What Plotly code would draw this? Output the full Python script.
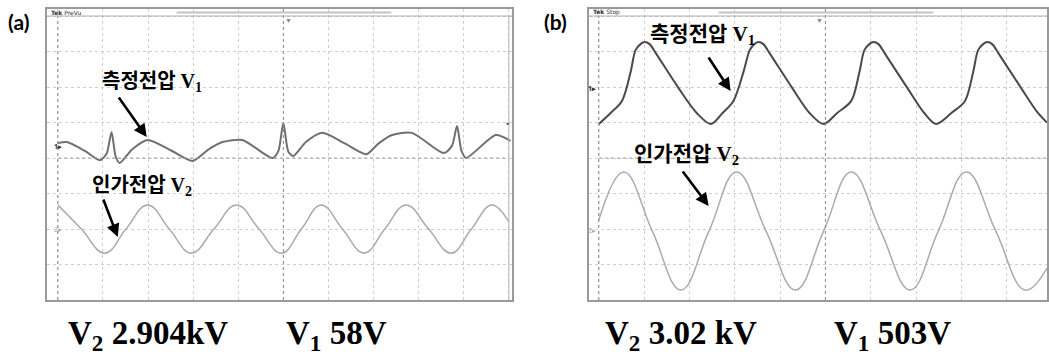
import plotly.graph_objects as go

# ---------------- data (oscilloscope divisions) ----------------
# Panel (a): measured voltage V1 (dark trace)
a_v1_t = [0.00, 0.20, 0.60, 0.93, 1.08, 1.19, 1.28, 1.37, 1.65, 1.99, 2.50, 2.99, 3.35,
          3.65, 4.09, 4.76, 4.89, 5.00, 5.11, 5.22, 5.50, 5.86, 6.35, 6.84, 7.10, 7.41,
          7.85, 8.56, 8.74, 8.85, 8.95, 9.05, 9.71, 10.04]
a_v1_y = [0.42, 0.45, 0.20, -0.06, 0.12, 0.73, 0.05, -0.14, 0.25, 0.51, 0.22, -0.08, 0.25,
          0.45, 0.51, 0.00, 0.20, 0.99, 0.18, 0.06, 0.45, 0.71, 0.42, 0.11, 0.40, 0.65,
          0.71, 0.14, 0.35, 0.90, 0.20, 0.00, 0.65, 0.48]
# Panel (a): applied voltage V2 (light trace)
a_v2_t = [0.00, 0.52, 1.04, 1.51, 1.99, 2.47, 2.96, 3.46, 3.96, 4.46, 4.96, 5.40, 5.84,
          6.31, 6.79, 7.25, 7.72, 8.22, 8.72, 9.17, 9.62, 10.00]
a_v2_y = [-1.32, -2.00, -2.68, -2.00, -1.32, -2.00, -2.68, -2.00, -1.32, -2.00, -2.68,
          -2.00, -1.32, -2.00, -2.68, -2.00, -1.32, -2.00, -2.68, -2.00, -1.32, -1.80]
# Panel (b): measured voltage V1
b_v1_t = [0.00, 0.26, 0.51, 0.70, 0.81, 0.92, 1.01, 1.12, 1.26, 1.76, 2.16, 2.47,
          2.73, 2.97, 3.19, 3.33, 3.43, 3.52, 3.63, 3.77, 4.27, 4.65, 4.96,
          5.26, 5.57, 5.75, 5.86, 5.97, 6.06, 6.17, 6.31, 6.81, 7.18, 7.44,
          7.78, 8.08, 8.26, 8.37, 8.48, 8.57, 8.68, 8.82, 9.32, 9.69, 9.89]
b_v1_y = [0.96, 1.27, 1.61, 2.42, 3.04, 3.21, 3.27, 3.21, 2.95, 1.97, 1.27, 0.96,
          1.27, 1.61, 2.42, 3.04, 3.21, 3.27, 3.21, 2.95, 1.97, 1.27, 0.96,
          1.27, 1.61, 2.42, 3.04, 3.21, 3.27, 3.21, 2.95, 1.97, 1.27, 0.96,
          1.27, 1.61, 2.42, 3.04, 3.21, 3.27, 3.21, 2.95, 1.97, 1.27, 1.00]
# Panel (b): applied voltage V2
b_v2_t = [0.00, 0.55, 1.18, 1.81, 2.43, 3.04, 3.69, 4.34, 4.96, 5.57, 6.22, 6.87,
          7.49, 8.11, 8.76, 9.41, 9.89]
b_v2_y = [-1.75, -0.39, -2.06, -3.72, -2.06, -0.39, -2.06, -3.72, -2.06, -0.39, -2.06,
          -3.72, -2.06, -0.39, -2.06, -3.72, -3.10]

panel_labels = ["(a)", "(b)"]
v2_readings = ["2.904kV", "3.02 kV"]
v1_readings = ["58V", "503V"]
label_v1 = "측정전압"
label_v2 = "인가전압"

# ---------------- figure ----------------
W, H = 1049, 356
MT, MB = 9, 56
PH = H - MT - MB


def px(x):
    return x / W


def py(y):
    return (H - MB - y) / PH


fig = go.Figure()
fig.add_trace(go.Scatter(x=a_v1_t, y=a_v1_y, mode="lines", xaxis="x", yaxis="y",
                         line=dict(color="#707070", width=2, shape="spline", smoothing=0.7)))
fig.add_trace(go.Scatter(x=a_v2_t, y=a_v2_y, mode="lines", xaxis="x", yaxis="y",
                         line=dict(color="#ababab", width=1.5, shape="spline", smoothing=1.2)))
fig.add_trace(go.Scatter(x=b_v1_t, y=b_v1_y, mode="lines", xaxis="x2", yaxis="y2",
                         line=dict(color="#4a4a4a", width=2, shape="spline", smoothing=0.9)))
fig.add_trace(go.Scatter(x=b_v2_t, y=b_v2_y, mode="lines", xaxis="x2", yaxis="y2",
                         line=dict(color="#ababab", width=1.5, shape="spline", smoothing=1.2)))

grid = dict(showticklabels=False, ticks="", zeroline=False, showgrid=True,
            gridcolor="#cfcfcf", griddash="dot", gridwidth=1, dtick=1, tick0=0,
            showline=True, mirror=True, linecolor="#9a9a9a", linewidth=2, fixedrange=True)

fig.update_layout(
    width=W, height=H, margin=dict(l=0, r=0, t=MT, b=MB),
    paper_bgcolor="white", plot_bgcolor="white", showlegend=False,
    xaxis=dict(domain=[px(47), px(513)], range=[-0.243, 10.07], anchor="y", **grid),
    yaxis=dict(domain=[0, 1], range=[-4.0, 4.2], anchor="x", **grid),
    xaxis2=dict(domain=[px(590), 1.0], range=[-0.22, 9.89], anchor="y2", **grid),
    yaxis2=dict(domain=[0, 1], range=[-4.0, 4.2], anchor="x2", **grid),
)

shapes = []
for xr, yr, x_end in (("x", "y", 10.0), ("x2", "y2", 9.89)):
    dash = "3px,3px"
    shapes.append(dict(type="line", xref=xr, yref=yr, x0=0, x1=0, y0=-4, y1=4,
                       line=dict(color="#8a8a8a", width=1, dash=dash)))
    shapes.append(dict(type="line", xref=xr, yref=yr, x0=5, x1=5, y0=-4, y1=4.2,
                       line=dict(color="#8a8a8a", width=1, dash=dash)))
    shapes.append(dict(type="line", xref=xr, yref=yr, x0=0, x1=x_end, y0=0, y1=0,
                       line=dict(color="#9a9a9a", width=1, dash=dash)))
# header separators and bars
for x0, x1 in ((47, 513), (590, 1049)):
    shapes.append(dict(type="line", xref="paper", yref="paper", x0=px(x0), x1=px(x1),
                       y0=py(16), y1=py(16), line=dict(color="#b0b0b0", width=1)))
for x0, x1 in ((177, 392), (720, 935)):
    shapes.append(dict(type="line", xref="paper", yref="paper", x0=px(x0), x1=px(x1),
                       y0=py(12.5), y1=py(12.5), line=dict(color="#c4c4c4", width=2)))
shapes.append(dict(type="line", xref="x", yref="paper", x0=10.0, x1=10.0, y0=0, y1=py(16),
                   line=dict(color="#b8b8b8", width=1)))
fig.update_layout(shapes=shapes)

KR = "Noto Sans CJK KR"
SERIF = "Liberation Serif"


def label(k, sub):
    return (f'<span style="font-family:{KR};font-weight:bold">{k}</span>'
            f'<span style="font-family:{SERIF};font-weight:bold"> V<sub>{sub}</sub></span>')


ann = []
# panel letters
ann.append(dict(text=f"<b>{panel_labels[0]}</b>", x=px(6), y=py(22), xanchor="left",
                font=dict(family="Lato", size=21, color="black")))
ann.append(dict(text=f"<b>{panel_labels[1]}</b>", x=px(543), y=py(22), xanchor="left",
                font=dict(family="Lato", size=21, color="black")))
# trace labels
ann.append(dict(text=label(label_v1, 1), x=px(100), y=py(80), xanchor="left",
                font=dict(size=20, color="black")))
ann.append(dict(text=label(label_v2, 2), x=px(90), y=py(184), xanchor="left",
                font=dict(size=20, color="black")))
ann.append(dict(text=label(label_v1, 1), x=px(649), y=py(32), xanchor="left",
                font=dict(size=21, color="black")))
ann.append(dict(text=label(label_v2, 2), x=px(633), y=py(152), xanchor="left",
                font=dict(size=21, color="black")))
# arrows (head, tail)
for hx, hy, tx, ty in ((147, 137, 118, 96), (118, 237, 103, 198),
                       (732, 91, 709, 56), (710, 206, 683, 170)):
    ann.append(dict(text="", x=px(hx), y=py(hy), ax=tx - hx, ay=ty - hy, showarrow=True,
                    arrowhead=2, arrowsize=1.0, arrowwidth=2.6, arrowcolor="black",
                    standoff=0))
# readings below
for i, (xa, xb) in enumerate(((66, 285), (604, 834))):
    ann.append(dict(text=f"<b>V<sub>2</sub> {v2_readings[i]}</b>", x=px(xa), y=py(335),
                    xanchor="left", font=dict(family=SERIF, size=33, color="black")))
    ann.append(dict(text=f"<b>V<sub>1</sub> {v1_readings[i]}</b>", x=px(xb), y=py(335),
                    xanchor="left", font=dict(family=SERIF, size=33, color="black")))
# scope header text and channel markers
ann.append(dict(text="<b>Tek</b> PreVu", x=px(49), y=py(12.5), xanchor="left",
                font=dict(family="DejaVu Sans", size=6, color="#333")))
ann.append(dict(text="<b>Tek</b> Stop", x=px(592), y=py(12.5), xanchor="left",
                font=dict(family="DejaVu Sans", size=6, color="#333")))
for xm in (284, 827):
    ann.append(dict(text="▼", x=px(xm), y=py(21), font=dict(size=7, color="#888")))
for xm, ym1, ym2 in ((52, 146, 229), (593, 88, 230)):
    ann.append(dict(text="<b>1▸</b>", x=px(xm), y=py(ym1), font=dict(size=7, color="#333")))
    ann.append(dict(text="2▸", x=px(xm), y=py(ym2), font=dict(size=7, color="#aaa")))
ann.append(dict(text="●", x=px(508), y=py(123), font=dict(size=5, color="#333")))

for a in ann:
    a.setdefault("xref", "paper")
    a.setdefault("yref", "paper")
    a.setdefault("showarrow", False)
    a.setdefault("yanchor", "middle")
    if a.get("showarrow"):
        a["axref"] = "pixel"
        a["ayref"] = "pixel"
fig.update_layout(annotations=ann)

fig.write_html("out.html", config={"displayModeBar": False},
               post_script="document.body.style.margin='0';")
